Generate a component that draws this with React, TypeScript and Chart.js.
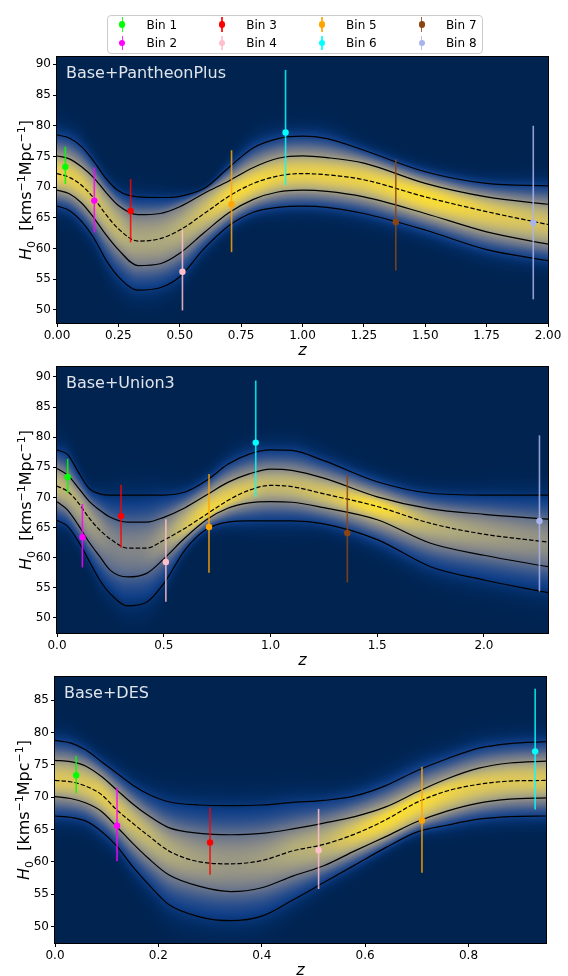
import React, { useEffect, useRef } from "react";
import { Chart, registerables } from "chart.js";

Chart.register(...registerables);

const FONT = '"DejaVu Sans", "Liberation Sans", sans-serif';
const W = 568;

// ---------------- legend / bins ----------------
const BIN_LABELS = ["Bin 1", "Bin 2", "Bin 3", "Bin 4", "Bin 5", "Bin 6", "Bin 7", "Bin 8"];
const BIN_COLORS = ["#00ff00", "#ff00ff", "#ff0000", "#ffc0cb", "#ffa500", "#00ffff", "#8b4513", "#aab4ec"];

// ---------------- Base+PantheonPlus ----------------
const PAN_Z = [0, 0.05, 0.1, 0.15, 0.2, 0.25, 0.33, 0.42, 0.5, 0.6, 0.7, 0.8, 0.9, 1.0, 1.1, 1.25, 1.5, 1.75, 2.0];
const PAN_UP2 = [78.5, 78.0, 76.6, 74.2, 71.4, 69.4, 68.4, 68.3, 68.5, 69.8, 73.2, 76.4, 77.9, 78.3, 77.9, 76.0, 72.5, 70.6, 70.2];
const PAN_UP1 = [75.1, 74.6, 73.3, 71.5, 69.1, 67.0, 65.5, 65.7, 66.8, 69.0, 71.0, 73.2, 74.7, 75.1, 74.8, 73.9, 70.6, 68.4, 67.2];
const PAN_MED = [72.2, 71.6, 70.3, 68.2, 65.5, 63.2, 61.2, 61.6, 63.0, 65.7, 68.5, 70.6, 71.8, 72.2, 72.0, 71.2, 68.4, 66.0, 63.9];
const PAN_LO1 = [69.5, 68.9, 67.4, 65.0, 62.2, 59.8, 57.2, 57.5, 59.2, 62.6, 65.8, 68.0, 69.2, 69.5, 69.3, 68.4, 65.7, 62.7, 60.7];
const PAN_LO2 = [66.9, 66.2, 64.4, 61.7, 58.1, 55.4, 53.2, 53.6, 55.4, 60.0, 63.7, 65.9, 66.7, 66.9, 66.7, 65.7, 63.0, 59.8, 58.0];
const PAN_BIN_Z = [0.034, 0.152, 0.3, 0.511, 0.711, 0.931, 1.38, 1.94];
const PAN_BIN_H = [73.3, 67.8, 66.1, 56.2, 67.2, 78.9, 64.3, 64.2];
const PAN_ERR_UP = [3.3, 5.4, 5.2, 6.8, 8.8, 10.2, 10.2, 15.8];
const PAN_ERR_DN = [2.8, 5.2, 5.1, 6.3, 7.8, 8.6, 7.9, 12.5];
const PAN_X_TICKS = ["0.00", "0.25", "0.50", "0.75", "1.00", "1.25", "1.50", "1.75", "2.00"];
const PAN_Y_TICKS = ["50", "55", "60", "65", "70", "75", "80", "85", "90"];

// ---------------- Base+Union3 ----------------
const UNI_Z = [0, 0.05, 0.1, 0.15, 0.2, 0.25, 0.33, 0.42, 0.5, 0.6, 0.7, 0.8, 0.9, 1.0, 1.1, 1.25, 1.5, 1.75, 2.0, 2.3];
const UNI_UP2 = [77.9, 77.1, 74.2, 71.5, 70.6, 70.4, 70.4, 70.4, 70.4, 70.9, 72.8, 75.5, 77.2, 77.9, 77.8, 76.1, 72.6, 70.7, 70.4, 70.4];
const UNI_UP1 = [74.8, 73.7, 71.6, 69.4, 67.9, 66.7, 65.9, 65.9, 66.7, 68.3, 70.4, 72.5, 73.9, 74.7, 74.5, 73.2, 70.1, 68.1, 67.2, 66.4];
const UNI_MED = [71.9, 71.0, 69.1, 66.6, 64.6, 63.1, 61.6, 61.6, 62.9, 64.9, 67.2, 69.5, 71.2, 72.0, 71.8, 70.6, 68.5, 65.7, 63.9, 62.6];
const UNI_LO1 = [69.3, 67.9, 65.4, 62.6, 60.2, 57.9, 56.8, 57.4, 59.8, 63.3, 66.3, 68.2, 69.1, 69.3, 69.2, 68.3, 66.3, 62.4, 60.4, 58.5];
const UNI_LO2 = [66.2, 65.2, 62.7, 59.5, 56.3, 54.0, 52.0, 52.6, 55.7, 61.3, 64.7, 65.9, 66.1, 66.1, 66.1, 65.6, 63.0, 58.5, 56.3, 54.2];
const UNI_BIN_Z = [0.05, 0.119, 0.3, 0.51, 0.712, 0.931, 1.36, 2.26];
const UNI_BIN_H = [73.4, 63.4, 66.9, 59.3, 65.1, 79.1, 64.1, 66.1];
const UNI_ERR_UP = [3.0, 5.5, 5.2, 7.1, 8.8, 10.3, 9.6, 14.2];
const UNI_ERR_DN = [2.7, 5.0, 5.2, 6.6, 7.6, 9.0, 8.2, 11.7];
const UNI_X_TICKS = ["0.0", "0.5", "1.0", "1.5", "2.0"];
const UNI_Y_TICKS = ["50", "55", "60", "65", "70", "75", "80", "85", "90"];

// ---------------- Base+DES ----------------
const DES_Z = [0, 0.03, 0.06, 0.09, 0.12, 0.15, 0.18, 0.22, 0.28, 0.34, 0.4, 0.46, 0.52, 0.58, 0.64, 0.7, 0.76, 0.82, 0.88, 0.95];
const DES_UP2 = [78.8, 78.4, 77.3, 75.5, 73.7, 71.9, 70.5, 69.3, 68.8, 68.7, 68.8, 69.2, 69.5, 70.2, 71.8, 74.1, 76.0, 77.6, 78.3, 78.6];
const DES_UP1 = [75.7, 75.5, 74.8, 73.2, 71.1, 69.0, 67.2, 65.3, 64.4, 64.2, 64.4, 65.1, 66.0, 67.0, 68.5, 70.8, 72.9, 74.5, 75.3, 75.6];
const DES_MED = [72.6, 72.4, 71.7, 70.4, 68.0, 66.0, 64.1, 61.7, 60.0, 59.7, 60.2, 61.7, 62.7, 64.3, 66.5, 69.2, 71.0, 72.0, 72.5, 72.6];
const DES_LO1 = [70.1, 69.8, 69.1, 67.8, 65.4, 62.9, 60.6, 58.0, 56.2, 55.4, 56.0, 57.8, 59.4, 61.7, 63.9, 66.2, 67.9, 69.1, 69.7, 69.9];
const DES_LO2 = [67.1, 66.9, 66.3, 64.7, 62.4, 59.3, 56.6, 53.4, 51.5, 50.9, 51.6, 54.1, 56.8, 59.5, 62.2, 64.6, 65.7, 66.6, 67.0, 67.1];
const DES_BIN_Z = [0.041, 0.12, 0.3, 0.51, 0.71, 0.929];
const DES_BIN_H = [73.4, 65.6, 63.0, 61.8, 66.4, 77.1];
const DES_ERR_UP = [3.0, 5.9, 5.4, 6.4, 8.3, 9.7];
const DES_ERR_DN = [2.8, 5.5, 5.0, 6.0, 8.1, 9.0];
const DES_X_TICKS = ["0.0", "0.2", "0.4", "0.6", "0.8"];
const DES_Y_TICKS = ["50", "55", "60", "65", "70", "75", "80", "85"];

// ---------------- colormap (navy -> blue -> grey -> yellow) ----------------
const CMAP: number[][] = [
  [0.0, 0, 35, 80],
  [0.04, 2, 44, 100],
  [0.1, 15, 62, 135],
  [0.18, 45, 80, 140],
  [0.3, 95, 110, 140],
  [0.45, 140, 140, 135],
  [0.6, 175, 170, 125],
  [0.75, 210, 192, 100],
  [0.9, 238, 212, 70],
  [1.0, 250, 222, 50],
];

function cmap(v: number): number[] {
  if (v <= 0) return CMAP[0].slice(1);
  if (v >= 1) return CMAP[CMAP.length - 1].slice(1);
  for (let i = 0; i < CMAP.length - 1; i++) {
    const a = CMAP[i], b = CMAP[i + 1];
    if (v <= b[0]) {
      const t = (v - a[0]) / (b[0] - a[0]);
      return [a[1] + t * (b[1] - a[1]), a[2] + t * (b[2] - a[2]), a[3] + t * (b[3] - a[3])];
    }
  }
  return CMAP[CMAP.length - 1].slice(1);
}

// monotone cubic Hermite, same construction as Chart.js 'monotone'
function monotone(xs: number[], ys: number[]) {
  const n = xs.length;
  const d: number[] = [];
  const m: number[] = [];
  for (let i = 0; i < n - 1; i++) d[i] = (ys[i + 1] - ys[i]) / (xs[i + 1] - xs[i]);
  for (let i = 0; i < n; i++) {
    if (i === 0) m[i] = d[0];
    else if (i === n - 1) m[i] = d[n - 2];
    else if (Math.sign(d[i - 1]) !== Math.sign(d[i])) m[i] = 0;
    else m[i] = (d[i - 1] + d[i]) / 2;
  }
  for (let i = 0; i < n - 1; i++) {
    if (Math.abs(d[i]) < 1e-9) {
      m[i] = 0;
      m[i + 1] = 0;
      continue;
    }
    const a = m[i] / d[i];
    const b = m[i + 1] / d[i];
    const s = a * a + b * b;
    if (s <= 9) continue;
    const tau = 3 / Math.sqrt(s);
    m[i] = a * tau * d[i];
    m[i + 1] = b * tau * d[i];
  }
  return (x: number) => {
    if (x <= xs[0]) return ys[0];
    if (x >= xs[n - 1]) return ys[n - 1];
    let k = 0;
    while (k < n - 2 && x > xs[k + 1]) k++;
    const h = xs[k + 1] - xs[k];
    const t = (x - xs[k]) / h;
    const t2 = t * t, t3 = t2 * t;
    return (2 * t3 - 3 * t2 + 1) * ys[k] + (t3 - 2 * t2 + t) * h * m[k] + (-2 * t3 + 3 * t2) * ys[k + 1] + (t3 - t2) * h * m[k + 1];
  };
}

type Area = { left: number; right: number; top: number; bottom: number };
type PanelSpec = {
  name: string;
  z: number[];
  up2: number[];
  up1: number[];
  med: number[];
  lo1: number[];
  lo2: number[];
  binZ: number[];
  binH: number[];
  errUp: number[];
  errDn: number[];
  xTicks: string[];
  yTicks: string[];
  xMin: number;
  xMax: number;
  yMin: number;
  yMax: number;
  top: number;
  height: number;
  area: Area;
};

const PANELS: PanelSpec[] = [
  {
    name: "Base+PantheonPlus",
    z: PAN_Z, up2: PAN_UP2, up1: PAN_UP1, med: PAN_MED, lo1: PAN_LO1, lo2: PAN_LO2,
    binZ: PAN_BIN_Z, binH: PAN_BIN_H, errUp: PAN_ERR_UP, errDn: PAN_ERR_DN,
    xTicks: PAN_X_TICKS, yTicks: PAN_Y_TICKS,
    xMin: 0, xMax: 2.0, yMin: 47.85, yMax: 91.2,
    top: 0, height: 360, area: { left: 57, right: 548, top: 57, bottom: 323 },
  },
  {
    name: "Base+Union3",
    z: UNI_Z, up2: UNI_UP2, up1: UNI_UP1, med: UNI_MED, lo1: UNI_LO1, lo2: UNI_LO2,
    binZ: UNI_BIN_Z, binH: UNI_BIN_H, errUp: UNI_ERR_UP, errDn: UNI_ERR_DN,
    xTicks: UNI_X_TICKS, yTicks: UNI_Y_TICKS,
    xMin: 0, xMax: 2.3, yMin: 47.5, yMax: 91.65,
    top: 360, height: 310, area: { left: 57, right: 548, top: 7, bottom: 273 },
  },
  {
    name: "Base+DES",
    z: DES_Z, up2: DES_UP2, up1: DES_UP1, med: DES_MED, lo1: DES_LO1, lo2: DES_LO2,
    binZ: DES_BIN_Z, binH: DES_BIN_H, errUp: DES_ERR_UP, errDn: DES_ERR_DN,
    xTicks: DES_X_TICKS, yTicks: DES_Y_TICKS,
    xMin: 0, xMax: 0.95, yMin: 47.45, yMax: 88.6,
    top: 670, height: 306, area: { left: 55, right: 546, top: 7, bottom: 273 },
  },
];

function hexA(hex: string, a: number) {
  const r = parseInt(hex.slice(1, 3), 16), g = parseInt(hex.slice(3, 5), 16), b = parseInt(hex.slice(5, 7), 16);
  return `rgba(${r},${g},${b},${a})`;
}

function drawYLabel(ctx: CanvasRenderingContext2D, bx: number, cy: number) {
  const parts = [
    { t: "H", f: `italic 16px ${FONT}`, dy: 0 },
    { t: "0", f: `11px ${FONT}`, dy: 3.5 },
    { t: "  [kms", f: `16px ${FONT}`, dy: 0 },
    { t: "\u22121", f: `11px ${FONT}`, dy: -6.5 },
    { t: "Mpc", f: `16px ${FONT}`, dy: 0 },
    { t: "\u22121", f: `11px ${FONT}`, dy: -6.5 },
    { t: "]", f: `16px ${FONT}`, dy: 0 },
  ];
  let total = 0;
  const widths: number[] = [];
  for (const p of parts) {
    ctx.font = p.f;
    const w = ctx.measureText(p.t).width;
    widths.push(w);
    total += w;
  }
  ctx.save();
  ctx.translate(bx, cy);
  ctx.rotate(-Math.PI / 2);
  ctx.fillStyle = "#000";
  ctx.textBaseline = "alphabetic";
  ctx.textAlign = "left";
  let u = -total / 2;
  parts.forEach((p, i) => {
    ctx.font = p.f;
    ctx.fillText(p.t, u, p.dy);
    u += widths[i];
  });
  ctx.restore();
}

function buildConfig(spec: PanelSpec): any {
  const a = spec.area;
  const H = spec.height;
  const fMed = monotone(spec.z, spec.med);
  const fU1 = monotone(spec.z, spec.up1);
  const fU2 = monotone(spec.z, spec.up2);
  const fL1 = monotone(spec.z, spec.lo1);
  const fL2 = monotone(spec.z, spec.lo2);

  const densityPlugin = {
    id: "density",
    beforeDatasetsDraw(chart: any) {
      const { ctx, chartArea: ca, scales } = chart;
      const xs = scales.x, ys = scales.y;
      const w = Math.round(ca.right - ca.left);
      const h = Math.round(ca.bottom - ca.top);
      const off = document.createElement("canvas");
      off.width = w;
      off.height = h;
      const octx = off.getContext("2d")!;
      const img = octx.createImageData(w, h);
      const cols: number[][] = [];
      let sigRef = Infinity;
      for (let i = 0; i < w; i++) {
        const zv = xs.getValueForPixel(ca.left + i + 0.5);
        const M = fMed(zv), U1 = fU1(zv), U2 = fU2(zv), L1 = fL1(zv), L2 = fL2(zv);
        const sig = (U1 - L1) / 2;
        if (sig < sigRef) sigRef = sig;
        cols.push([M, U1, U2, L1, L2, sig]);
      }
      for (let i = 0; i < w; i++) {
        const [M, U1, U2, L1, L2, sig] = cols[i];
        const amp = sigRef / sig;
        for (let j = 0; j < h; j++) {
          const Hv = ys.getValueForPixel(ca.top + j + 0.5);
          let s: number;
          if (Hv >= M) {
            if (Hv <= U1) s = (Hv - M) / (U1 - M);
            else if (Hv <= U2) s = 1 + (Hv - U1) / (U2 - U1);
            else s = 2 + (Hv - U2) / (U2 - U1);
          } else {
            if (Hv >= L1) s = (M - Hv) / (M - L1);
            else if (Hv >= L2) s = 1 + (L1 - Hv) / (L1 - L2);
            else s = 2 + (L2 - Hv) / (L1 - L2);
          }
          const v = amp * Math.exp(-0.5 * s * s);
          const c = cmap(v);
          const k = (j * w + i) * 4;
          img.data[k] = c[0];
          img.data[k + 1] = c[1];
          img.data[k + 2] = c[2];
          img.data[k + 3] = 255;
        }
      }
      octx.putImageData(img, 0, 0);
      ctx.drawImage(off, ca.left, ca.top);
    },
    afterDatasetsDraw(chart: any) {
      const { ctx, chartArea: ca } = chart;
      ctx.save();
      ctx.font = `16px ${FONT}`;
      ctx.fillStyle = "rgba(255,255,255,0.88)";
      ctx.textBaseline = "alphabetic";
      ctx.textAlign = "left";
      ctx.fillText(spec.name, ca.left + 9, ca.top + 21.3);
      ctx.restore();
    },
    afterDraw(chart: any) {
      const { ctx, chartArea: ca } = chart;
      ctx.save();
      ctx.strokeStyle = "#000";
      ctx.lineWidth = 1;
      ctx.strokeRect(ca.left - 0.5, ca.top - 0.5, ca.right - ca.left + 1, ca.bottom - ca.top + 1);
      // x label
      ctx.fillStyle = "#000";
      ctx.font = `italic 16px ${FONT}`;
      ctx.textAlign = "center";
      ctx.textBaseline = "alphabetic";
      ctx.fillText("z", (ca.left + ca.right) / 2, ca.bottom + 31.5);
      drawYLabel(ctx, ca.left - 26, (ca.top + ca.bottom) / 2);
      ctx.restore();
    },
  };

  const curve = (arr: number[], dashed: boolean) => ({
    type: "scatter",
    data: spec.z.map((zv, i) => ({ x: zv, y: arr[i] })),
    showLine: true,
    borderColor: "#000",
    borderWidth: 1.2,
    borderDash: dashed ? [4.5, 2] : [],
    pointRadius: 0,
    cubicInterpolationMode: "monotone",
    order: 3,
  });

  const datasets: any[] = [
    curve(spec.up2, false),
    curve(spec.up1, false),
    curve(spec.med, true),
    curve(spec.lo1, false),
    curve(spec.lo2, false),
  ];
  spec.binZ.forEach((zv, i) => {
    datasets.push({
      type: "scatter",
      label: BIN_LABELS[i] + " err",
      data: [
        { x: zv, y: spec.binH[i] - spec.errDn[i] },
        { x: zv, y: spec.binH[i] + spec.errUp[i] },
      ],
      showLine: true,
      borderColor: hexA(BIN_COLORS[i], 0.85),
      borderWidth: 1.6,
      pointRadius: 0,
      order: 2,
    });
    datasets.push({
      type: "scatter",
      label: BIN_LABELS[i],
      data: [{ x: zv, y: spec.binH[i] }],
      showLine: false,
      backgroundColor: BIN_COLORS[i],
      borderWidth: 0,
      pointRadius: 3.2,
      order: 1,
    });
  });

  const zeroPad = (s: any) => {
    s.paddingLeft = 0;
    s.paddingRight = 0;
    s.paddingTop = 0;
    s.paddingBottom = 0;
  };

  return {
    type: "scatter",
    data: { datasets },
    plugins: [densityPlugin],
    options: {
      animation: false,
      responsive: false,
      maintainAspectRatio: false,
      devicePixelRatio: 1,
      events: [],
      layout: { padding: { top: a.top, right: W - a.right, bottom: 0, left: 0 }, autoPadding: false },
      plugins: { legend: { display: false }, tooltip: { enabled: false } },
      scales: {
        x: {
          type: "linear",
          position: "bottom",
          min: spec.xMin,
          max: spec.xMax,
          afterBuildTicks: (s: any) => {
            s.ticks = spec.xTicks.map((t) => ({ value: parseFloat(t) }));
          },
          afterFit: (s: any) => {
            s.height = H - a.bottom;
            zeroPad(s);
          },
          ticks: {
            autoSkip: false,
            maxRotation: 0,
            minRotation: 0,
            padding: 2,
            color: "#000",
            font: { family: FONT, size: 12 },
            callback: (_v: any, i: number) => spec.xTicks[i],
          },
          grid: { display: true, drawOnChartArea: false, drawTicks: true, tickLength: 4, color: "#000", lineWidth: 1 },
          border: { display: false },
        },
        y: {
          type: "linear",
          position: "left",
          min: spec.yMin,
          max: spec.yMax,
          afterBuildTicks: (s: any) => {
            s.ticks = spec.yTicks.map((t) => ({ value: parseFloat(t) }));
          },
          afterFit: (s: any) => {
            s.width = a.left;
            zeroPad(s);
          },
          ticks: {
            autoSkip: false,
            padding: 2,
            color: "#000",
            font: { family: FONT, size: 12 },
            callback: (_v: any, i: number) => spec.yTicks[i],
          },
          grid: { display: true, drawOnChartArea: false, drawTicks: true, tickLength: 4, color: "#000", lineWidth: 1 },
          border: { display: false },
        },
      },
    },
  };
}

function Panel({ spec }: { spec: PanelSpec }) {
  const ref = useRef<HTMLCanvasElement | null>(null);
  useEffect(() => {
    if (!ref.current) return;
    const chart = new Chart(ref.current, buildConfig(spec));
    return () => chart.destroy();
  }, [spec]);
  return (
    <canvas
      ref={ref}
      width={W}
      height={spec.height}
      style={{ position: "absolute", left: 0, top: spec.top, width: W, height: spec.height }}
    />
  );
}

function Legend() {
  return (
    <div
      style={{
        position: "absolute",
        left: 107,
        top: 15,
        width: 376,
        height: 39,
        boxSizing: "border-box",
        border: "1px solid #cccccc",
        borderRadius: 4,
        background: "rgba(255,255,255,0.8)",
        fontFamily: FONT,
        zIndex: 2,
      }}
    >
      {BIN_LABELS.map((lab, i) => {
        const col = Math.floor(i / 2);
        const row = i % 2;
        const cx = 14.3 + col * 99.8;
        const cy = row ? 27 : 8.6;
        return (
          <React.Fragment key={lab}>
            <div
              style={{
                position: "absolute",
                left: cx - 0.8,
                top: cy - 7.2,
                width: 1.6,
                height: 14.4,
                background: hexA(BIN_COLORS[i], 0.85),
              }}
            />
            <div
              style={{
                position: "absolute",
                left: cx - 3.2,
                top: cy - 3.2,
                width: 6.4,
                height: 6.4,
                borderRadius: "50%",
                background: BIN_COLORS[i],
              }}
            />
            <div
              style={{
                position: "absolute",
                left: 38.5 + col * 99.8,
                top: cy - 7.8,
                fontSize: 12,
                lineHeight: "16px",
                color: "#000",
                whiteSpace: "nowrap",
              }}
            >
              {lab}
            </div>
          </React.Fragment>
        );
      })}
    </div>
  );
}

export default function App() {
  useEffect(() => {
    document.body.style.margin = "0";
  }, []);
  return (
    <div style={{ position: "relative", width: W, height: 976, overflow: "hidden", background: "#fff" }}>
      {PANELS.map((p) => (
        <Panel key={p.name} spec={p} />
      ))}
      <Legend />
    </div>
  );
}
